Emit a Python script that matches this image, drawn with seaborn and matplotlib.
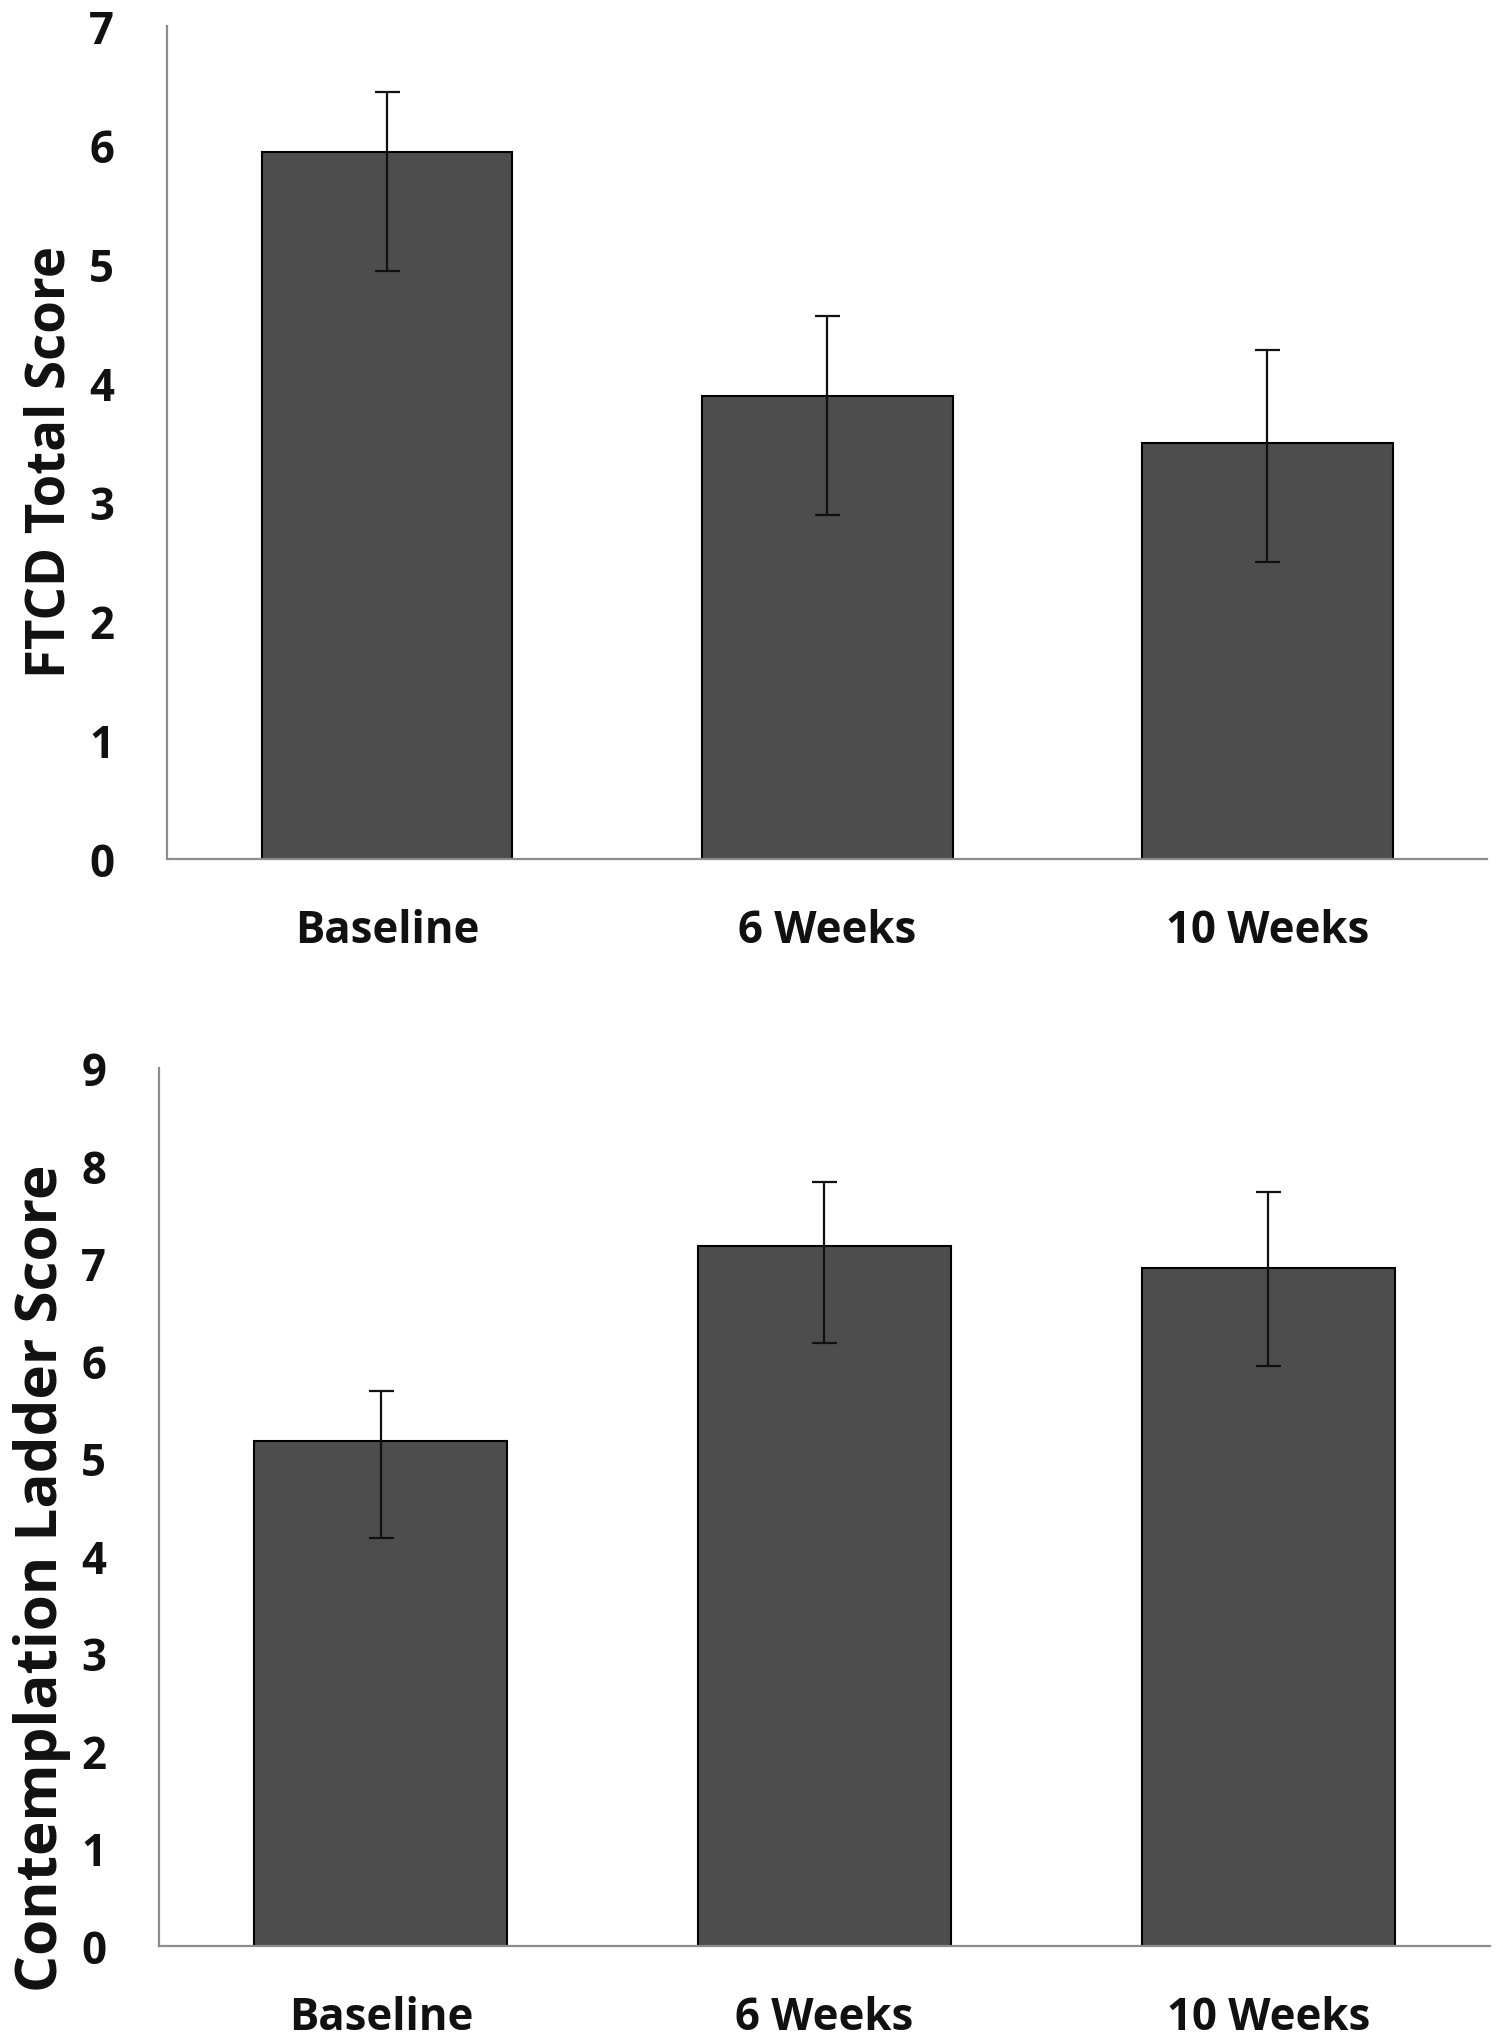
import matplotlib
matplotlib.use("Agg")
import numpy as np
import pandas as pd
import matplotlib.pyplot as plt
import seaborn as sns

# data
timepoints = ["Baseline", "6 Weeks", "10 Weeks"]

ftcd_mean = [5.94, 3.89, 3.50]
ftcd_err_low = [1.00, 1.00, 1.00]
ftcd_err_high = [0.51, 0.67, 0.78]

ladder_mean = [5.18, 7.18, 6.95]
ladder_err_low = [1.00, 1.00, 1.00]
ladder_err_high = [0.51, 0.65, 0.78]

BAR = "#4d4d4d"
SPINE = "#8c8c8c"
INK = "#111111"

sns.set_style("white")
plt.rcParams["font.family"] = ["Open Sans", "DejaVu Sans"]
plt.rcParams["font.weight"] = "bold"


def score_panel(ax, means, err_low, err_high, ylabel, ymax, label_size, label_x, label_y):
    df = pd.DataFrame({"time": timepoints, "score": means})
    sns.barplot(data=df, x="time", y="score", color=BAR, saturation=1,
                edgecolor="black", linewidth=1.5, width=0.57, ax=ax)
    ax.errorbar(np.arange(len(means)), means, yerr=[err_low, err_high],
                fmt="none", ecolor=INK, elinewidth=1.6,
                capsize=9, capthick=1.6)
    ax.set_xlim(-0.5, len(means) - 0.5)
    ax.set_ylim(0, ymax)
    ax.set_yticks(range(0, ymax + 1))
    ax.set_xlabel("")
    ax.set_ylabel(ylabel, fontsize=label_size, fontweight="bold", color=INK)
    ax.yaxis.set_label_coords(label_x, label_y)
    for side in ["top", "right"]:
        ax.spines[side].set_visible(False)
    for side in ["left", "bottom"]:
        ax.spines[side].set_color(SPINE)
        ax.spines[side].set_linewidth(1.6)
    ax.tick_params(axis="y", length=0, pad=38, labelsize=31.5, labelcolor=INK)
    ax.tick_params(axis="x", length=0, pad=35, labelsize=31.5, labelcolor=INK)
    for lab in ax.get_xticklabels() + ax.get_yticklabels():
        lab.set_fontweight("bold")


fig = plt.figure(figsize=(15.04, 20.40), dpi=100)
ax1 = fig.add_axes([0.111, 0.5784, 0.878, 0.4083])
ax2 = fig.add_axes([0.1057, 0.0456, 0.885, 0.4304])

score_panel(ax1, ftcd_mean, ftcd_err_low, ftcd_err_high,
            "FTCD Total Score", 7, 38, -0.068, 0.478)
score_panel(ax2, ladder_mean, ladder_err_low, ladder_err_high,
            "Contemplation Ladder Score", 9, 42, -0.066, 0.42)

fig.savefig("out.png", dpi=100, facecolor="white")
plt.close(fig)
